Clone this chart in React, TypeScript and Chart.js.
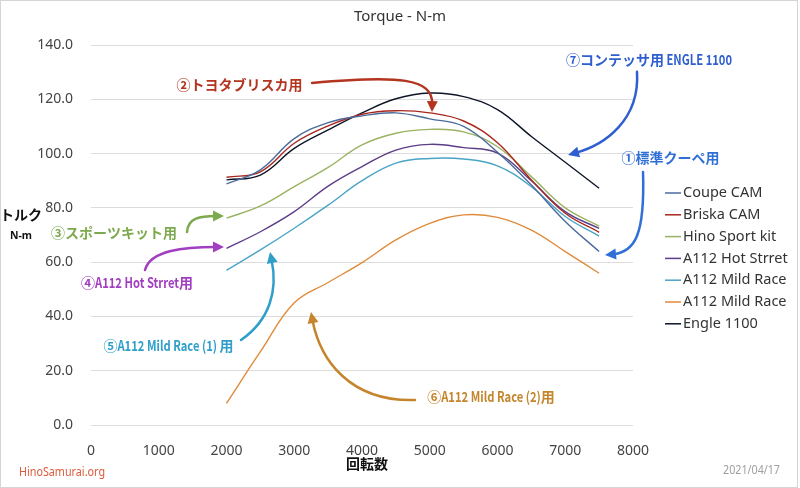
import React, { useEffect, useRef } from "react";
import { Chart, registerables } from "chart.js";

Chart.register(...registerables);

// ---- data ----
const rpm = [2000, 2500, 3000, 3500, 4000, 4500, 5000, 5500, 6000, 6500, 7000, 7500];

const coupeCam = [88.8, 94.0, 105.5, 111.4, 113.9, 115.0, 112.8, 110.0, 100.5, 88.4, 75.0, 63.9];
const briskaCam = [91.3, 93.3, 103.8, 110.2, 114.5, 115.8, 115.0, 112.0, 104.0, 90.3, 78.0, 71.0];
const hinoSportKit = [76.2, 80.7, 87.8, 94.9, 103.2, 107.5, 108.9, 108.0, 102.5, 91.5, 80.0, 73.3];
const a112HotStreet = [65.1, 71.2, 78.6, 88.0, 95.2, 101.3, 103.4, 102.2, 100.2, 90.0, 78.6, 72.4];
const a112MildRace1 = [57.0, 64.5, 72.5, 81.0, 90.0, 96.5, 98.2, 98.0, 95.5, 87.8, 76.8, 69.6];
const a112MildRace2 = [8.0, 27.0, 45.0, 52.5, 59.8, 68.2, 74.3, 77.4, 76.5, 71.8, 63.9, 55.9];
const engle1100 = [90.3, 92.1, 101.9, 108.7, 115.0, 120.2, 122.3, 121.0, 116.2, 106.3, 96.8, 87.2];

const seriesNames = ["Coupe CAM", "Briska CAM", "Hino Sport kit", "A112 Hot Strret", "A112 Mild Race", "A112 Mild Race", "Engle 1100"];
const seriesValues = [coupeCam, briskaCam, hinoSportKit, a112HotStreet, a112MildRace1, a112MildRace2, engle1100];
const seriesColors = ["#4b6b9c", "#a8271d", "#9ab363", "#5b3d88", "#4aa4c6", "#e08b3b", "#0d1526"];

const xMin = 0, xMax = 8000, xStep = 1000;
const yMin = 0, yMax = 140, yStep = 20;

const chartTitle = "Torque - N-m";
const yTitle1 = "トルク";
const yTitle2 = "N-m";
const xTitle = "回転数";
const siteText = "HinoSamurai.org";
const dateText = "2021/04/17";

// annotations (anchored in data units: [rpm, N-m])
const annotations = [
  { text: "⑦コンテッサ用 ENGLE 1100", color: "#2f5fcf", at: [8236, 134.5], path: [[8059, 130.1], [8103, 112.4], [7587, 103.2], [7041, 99.5]] },
  { text: "①標準クーペ用", color: "#2f6fd6", at: [8553, 98.4], path: [[8148, 93.2], [8177, 70.0], [8030, 63.7], [7587, 62.6]] },
  { text: "②トヨタブリスカ用", color: "#b3341f", at: [2192, 125.3], path: [[3262, 126.0], [4561, 128.9], [5048, 127.8], [5033, 115.3]] },
  { text: "③スポーツキット用", color: "#7daa4e", at: [339, 70.7], path: [[1417, 71.1], [1432, 76.3], [1609, 77.0], [1963, 77.0]] },
  { text: "④A112 Hot Strret用", color: "#a23fc0", at: [679, 52.3], path: [[797, 57.1], [871, 64.5], [1387, 65.6], [1963, 65.6]] },
  { text: "⑤A112 Mild Race (1) 用", color: "#2f9fca", at: [1144, 29.1], path: [[2214, 31.3], [2642, 38.7], [2760, 49.7], [2642, 63.7]] },
  { text: "⑥A112 Mild Race (2)用", color: "#c5852d", at: [5904, 10.3], path: [[4782, 9.2], [3823, 8.5], [3380, 23.9], [3247, 41.6]] },
];

const LATIN = "'Noto Sans', 'Noto Sans CJK JP', sans-serif";
const CJK = "'Noto Sans CJK JP', 'Noto Sans', sans-serif";

// draw text where ASCII runs are horizontally condensed
function drawMixed(ctx: CanvasRenderingContext2D, text: string, cx: number, cy: number, k: number) {
  const runs: { s: string; ascii: boolean }[] = [];
  for (const ch of Array.from(text)) {
    const ascii = ch.charCodeAt(0) < 128;
    const last = runs[runs.length - 1];
    if (last && last.ascii === ascii) last.s += ch;
    else runs.push({ s: ch, ascii });
  }
  const widths = runs.map((r) => ctx.measureText(r.s).width * (r.ascii ? k : 1));
  const total = widths.reduce((a, b) => a + b, 0);
  let x = cx - total / 2;
  ctx.textAlign = "left";
  ctx.textBaseline = "middle";
  runs.forEach((r, i) => {
    if (r.ascii) {
      ctx.save();
      ctx.translate(x, cy);
      ctx.scale(k, 1);
      ctx.fillText(r.s, 0, 0);
      ctx.restore();
    } else {
      ctx.fillText(r.s, x, cy);
    }
    x += widths[i];
  });
}

const decorPlugin = {
  id: "decor",
  afterDraw(chart: any) {
    const ctx = chart.ctx as CanvasRenderingContext2D;
    const xs = chart.scales.x;
    const ys = chart.scales.y;
    const P = (p: number[]) => ({ x: xs.getPixelForValue(p[0]), y: ys.getPixelForValue(p[1]) });
    ctx.save();

    // title
    ctx.fillStyle = "#333";
    ctx.font = `15px ${LATIN}`;
    ctx.textAlign = "center";
    ctx.textBaseline = "middle";
    ctx.fillText(chartTitle, 400, 17);

    // axis titles
    ctx.fillStyle = "#111";
    ctx.font = `bold 14px ${CJK}`;
    ctx.fillText(yTitle1, 21, 215);
    ctx.font = `bold 11px ${LATIN}`;
    ctx.fillText(yTitle2, 21, 236, 22);
    ctx.font = `bold 14px ${CJK}`;
    ctx.fillText(xTitle, 367, 464);

    // legend
    ctx.textAlign = "left";
    ctx.font = `14.5px ${LATIN}`;
    seriesNames.forEach((name, i) => {
      const y = 193 + i * 21.8;
      ctx.strokeStyle = seriesColors[i];
      ctx.lineWidth = 1.5;
      ctx.beginPath();
      ctx.moveTo(665, y);
      ctx.lineTo(681, y);
      ctx.stroke();
      ctx.fillStyle = "#333";
      ctx.fillText(name, 683, y);
    });

    // footer texts
    ctx.font = `12.5px ${LATIN}`;
    ctx.fillStyle = "#dc5a3a";
    ctx.fillText(siteText, 19, 472, 86);
    ctx.fillStyle = "#a0a0a0";
    ctx.font = `12px ${LATIN}`;
    ctx.fillText(dateText, 723, 471, 57);

    // annotations
    annotations.forEach((a) => {
      const pts = a.path.map(P);
      const [p0, p1, p2, p3] = pts;
      const ang = Math.atan2(p3.y - p2.y, p3.x - p2.x);
      const hl = 11, hw = 5.5;
      const c = Math.cos(ang), s = Math.sin(ang);
      const end = { x: p3.x - c * hl * 0.7, y: p3.y - s * hl * 0.7 };
      ctx.strokeStyle = a.color;
      ctx.fillStyle = a.color;
      ctx.lineWidth = 2.5;
      ctx.lineCap = "round";
      ctx.beginPath();
      ctx.moveTo(p0.x, p0.y);
      ctx.bezierCurveTo(p1.x, p1.y, p2.x, p2.y, end.x, end.y);
      ctx.stroke();
      ctx.beginPath();
      ctx.moveTo(p3.x, p3.y);
      ctx.lineTo(p3.x - c * hl - s * hw, p3.y - s * hl + c * hw);
      ctx.lineTo(p3.x - c * hl + s * hw, p3.y - s * hl - c * hw);
      ctx.closePath();
      ctx.fill();

      const t = P(a.at);
      ctx.font = `bold 14px ${CJK}`;
      drawMixed(ctx, a.text, t.x, t.y, 0.8);
    });

    // frame
    ctx.strokeStyle = "#d4d4d4";
    ctx.lineWidth = 1;
    ctx.strokeRect(0.5, 0.5, 797, 487);
    ctx.restore();
  },
};

export default function App() {
  const ref = useRef<HTMLCanvasElement | null>(null);

  useEffect(() => {
    if (!ref.current) return;
    const datasets = seriesNames.map((name, i) => ({
      label: name,
      data: rpm.map((r, j) => ({ x: r, y: seriesValues[i][j] })),
      borderColor: seriesColors[i],
      backgroundColor: seriesColors[i],
      borderWidth: 1.4,
      pointRadius: 0,
      tension: 0.4,
      fill: false,
    }));
    const chart = new Chart(ref.current, {
      type: "line",
      data: { datasets },
      options: {
        animation: false,
        responsive: false,
        devicePixelRatio: 1,
        layout: { padding: { top: 45, right: 167, bottom: 0, left: 0 } },
        plugins: {
          legend: { display: false },
          title: { display: false },
          tooltip: { enabled: false },
        },
        scales: {
          x: {
            type: "linear",
            min: xMin,
            max: xMax,
            afterFit: (s: any) => { s.height = 63; },
            grid: { display: false },
            border: { display: false },
            ticks: {
              stepSize: xStep,
              padding: 10,
              color: "#444",
              font: { family: LATIN, size: 14 },
              maxRotation: 0,
              callback: (v: any) => String(v),
            },
          },
          y: {
            min: yMin,
            max: yMax,
            afterFit: (s: any) => { s.width = 91; },
            grid: { color: "#dcdcdc", drawTicks: false, lineWidth: 1 },
            border: { display: false },
            ticks: {
              stepSize: yStep,
              padding: 18,
              color: "#444",
              font: { family: LATIN, size: 14 },
              callback: (v: any) => Number(v).toFixed(1),
            },
          },
        },
      },
      plugins: [decorPlugin],
    } as any);
    return () => chart.destroy();
  }, []);

  return (
    <div style={{ position: "absolute", left: 0, top: 0, width: 800, height: 488, background: "#fff" }}>
      <canvas ref={ref} width={800} height={488} style={{ display: "block" }} />
    </div>
  );
}
